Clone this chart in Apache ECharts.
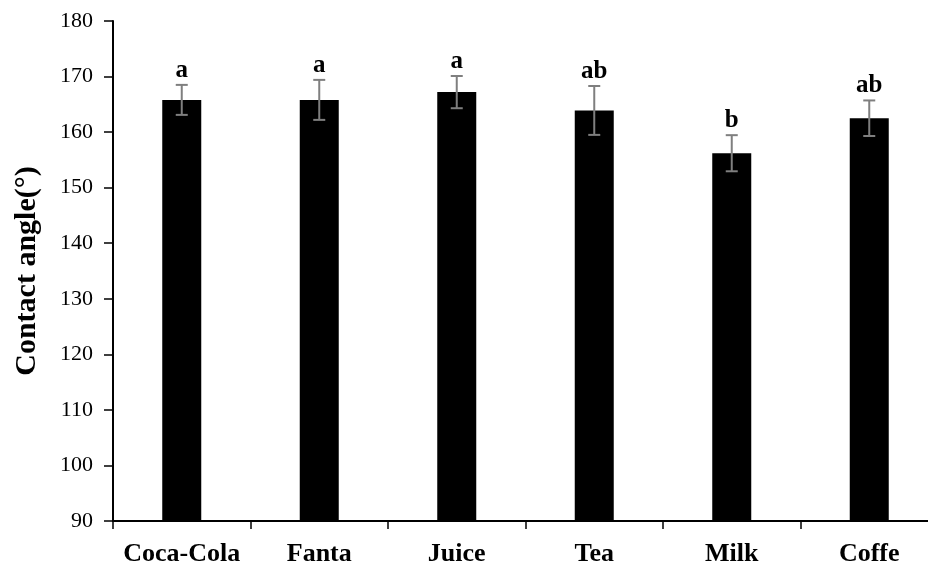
<!DOCTYPE html>
<html>
<head>
<meta charset="utf-8">
<title>Contact angle</title>
<script src="https://cdn.jsdelivr.net/npm/echarts@6/dist/echarts.min.js"></script>
<style>
  html, body { margin: 0; padding: 0; background: #fff; overflow: hidden; width: 928px; height: 567px; }
  /* the chart is slightly wider than the page, so the last category runs off the right edge */
  #chart { width: 940px; height: 567px; }
</style>
</head>
<body>
<div id="chart"></div>
<script>
// Beverages tested
const categories = ['Coca-Cola', 'Fanta', 'Juice', 'Tea', 'Milk', 'Coffe'];
// Mean contact angle (degrees)
const meanAngle = [165.8, 165.8, 167.2, 163.9, 156.2, 162.5];
// Standard deviation (degrees)
const stdDev = [2.7, 3.6, 2.9, 4.4, 3.25, 3.2];
// Significance group letters
const groupLetters = ['a', 'a', 'a', 'ab', 'b', 'ab'];
// Value axis ticks
const yMin = 90, yMax = 180, yStep = 10;

const serif = "'Liberation Serif', 'Times New Roman', serif";

const chart = echarts.init(document.getElementById('chart'), null, { renderer: 'canvas' });

const errData = categories.map((c, i) => [i, meanAngle[i], stdDev[i]]);

chart.setOption({
  animation: false,
  backgroundColor: '#ffffff',
  grid: { left: 113, right: 2, top: 21, bottom: 45, containLabel: false },
  xAxis: {
    type: 'category',
    data: categories,
    axisLine: { lineStyle: { color: '#000', width: 2 } },
    axisTick: { show: true, alignWithLabel: false, length: 8, lineStyle: { color: '#000', width: 1.5 } },
    axisLabel: { interval: 0, color: '#000', fontFamily: serif, fontWeight: 'bold', fontSize: 26, margin: 20 },
    splitLine: { show: false }
  },
  yAxis: {
    type: 'value',
    min: yMin, max: yMax, interval: yStep,
    name: 'Contact angle(°)',
    nameLocation: 'middle',
    nameGap: 71,
    nameTextStyle: { color: '#000', fontFamily: serif, fontWeight: 'bold', fontSize: 30 },
    axisLine: { show: true, lineStyle: { color: '#000', width: 2 } },
    axisTick: { show: true, length: 9, lineStyle: { color: '#000', width: 1.5 } },
    axisLabel: { color: '#000', fontFamily: serif, fontSize: 22, margin: 20 },
    splitLine: { show: false }
  },
  series: [
    {
      type: 'bar',
      data: meanAngle,
      barWidth: 39,
      itemStyle: { color: '#000' }
    },
    {
      type: 'custom',
      data: errData,
      z: 10,
      renderItem: function (params, api) {
        const i = api.value(0);
        const m = api.value(1);
        const sd = api.value(2);
        const top = api.coord([i, m + sd]);
        const bot = api.coord([i, m - sd]);
        const half = 6;
        const stroke = { stroke: '#7f7f7f', lineWidth: 2 };
        return {
          type: 'group',
          children: [
            { type: 'line', shape: { x1: top[0], y1: top[1], x2: bot[0], y2: bot[1] }, style: stroke },
            { type: 'line', shape: { x1: top[0] - half, y1: top[1], x2: top[0] + half, y2: top[1] }, style: stroke },
            { type: 'line', shape: { x1: bot[0] - half, y1: bot[1], x2: bot[0] + half, y2: bot[1] }, style: stroke },
            {
              type: 'text',
              style: {
                text: groupLetters[params.dataIndex],
                x: top[0], y: top[1] - 2,
                align: 'center', verticalAlign: 'bottom',
                fill: '#000',
                font: 'bold 25px ' + serif
              }
            }
          ]
        };
      }
    }
  ]
});
</script>
</body>
</html>
